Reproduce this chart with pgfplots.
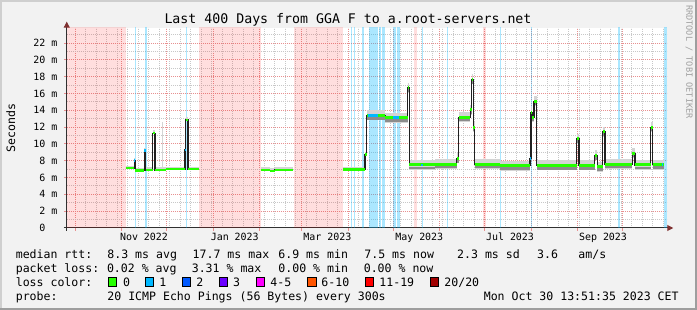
\documentclass[border=0pt]{standalone}
\usepackage{pgfplots}
\pgfplotsset{compat=1.18}
\usepackage{pgfplotstable}
\usepackage{fontspec}
\setmainfont{DejaVu Sans Mono}
\usetikzlibrary{arrows.meta}
\definecolor{bgc}{HTML}{F2F2F2}
\definecolor{shadeA}{HTML}{CFCFCF}
\definecolor{shadeB}{HTML}{9E9E9E}
\definecolor{mgridc}{HTML}{E89090}
\definecolor{gridc}{HTML}{C8C8C8}
\definecolor{arrowc}{HTML}{7F3131}
\definecolor{axisc}{HTML}{303030}
\definecolor{medc}{HTML}{202020}
\definecolor{smokeL}{HTML}{D4D4D4}
\definecolor{smokeD}{HTML}{8C8C8C}
\definecolor{lc0}{HTML}{26FF00}
\definecolor{lc1}{HTML}{00B8FF}
\definecolor{lc2}{HTML}{0059FF}
\definecolor{lc3}{HTML}{6A00FF}
\definecolor{lc4}{HTML}{FF00FF}
\definecolor{lc5}{HTML}{FF5500}
\definecolor{lc6}{HTML}{FF0000}
\definecolor{lc7}{HTML}{A10000}
\definecolor{unkc}{HTML}{FF0000}
\definecolor{wmc}{HTML}{A0A0A0}

% median rtt steps (x = days since 25 Sep 2022, y = ms)
\pgfplotstableread{
d v
39.6 7.1
45.2 8.0
46.0 6.85
51.9 9.2
53.0 6.9
57.6 11.3
59.1 6.9
66.3 7.0
79.1 9.3
79.6 12.9
81.1 7.0
88.2 7.0
}\segA
\pgfplotstableread{
d v
129.6 6.95
135.7 6.8
139.0 6.95
151.3 6.95
}\segB
\pgfplotstableread{
d v
184.3 6.95
199.1 8.7
200.2 13.4
212.5 13.15
227.6 16.7
228.5 7.5
245.8 7.6
260.3 8.3
261.5 13.2
269.2 14.1
270.2 17.7
271.3 12.0
272.4 7.6
288.8 7.4
309.1 8.3
309.8 13.8
310.7 13.2
311.8 15.1
313.6 7.45
340.2 10.65
341.8 7.45
352.4 8.65
354.0 7.3
357.5 11.45
359.1 7.6
377.4 8.9
379.1 7.5
389.7 12.0
390.8 7.55
398.7 7.55
}\segC

\newcommand{\pband}[2]{\addplot[draw=none, fill=unkc, fill opacity=0.13] coordinates {(#1,0) (#1,24) (#2,24) (#2,0)};}
\newcommand{\bband}[2]{\addplot[draw=none, fill=lc1, fill opacity=0.33] coordinates {(#1,0) (#1,24) (#2,24) (#2,0)};}
\newcommand{\lossone}[3]{\addplot[lc1, line width=2.6bp] coordinates {(#1,#3) (#2,#3)};}
\newcommand{\lgf}{\fontsize{11.6}{13}\selectfont}

\begin{document}
\begin{tikzpicture}
\path[use as bounding box] (0,0) rectangle (697bp,310bp);
\fill[bgc] (0,0) rectangle (697bp,310bp);
\fill[shadeA] (0,308bp) rectangle (697bp,310bp);
\fill[shadeA] (0,0) rectangle (2bp,310bp);
\fill[shadeB] (0,0) rectangle (697bp,2bp);
\fill[shadeB] (695bp,0) rectangle (697bp,310bp);

\begin{axis}[
  at={(66.75bp,82bp)}, anchor=south west,
  scale only axis, width=600bp, height=200bp,
  xmin=0.3, xmax=400.3, ymin=0, ymax=23.81,
  axis lines*=left,
  axis line style={axisc, line width=1bp},
  x axis line style={-{Triangle[length=6bp,width=6bp,color=arrowc]}, shorten >=-6.5bp, shorten <=-3bp},
  y axis line style={-{Triangle[length=6bp,width=6bp,color=arrowc]}, shorten >=-6.3bp, shorten <=-3bp},
  axis background/.style={fill=white},
  grid=both,
  major grid style={mgridc, line width=1bp, dash pattern=on 1bp off 1bp},
  minor grid style={gridc, line width=1bp, dash pattern=on 1bp off 1bp},
  xtick={6,37,67,98,129,157,188,218,249,279,310,341,371},
  xticklabels={},
  minor xtick={6,13,...,398},
  extra x ticks={51.8,112.3,174.0,235.3,295.8,357.8},
  extra x tick labels={Nov 2022,Jan 2023,Mar 2023,May 2023,Jul 2023,Sep 2023},
  extra x tick style={grid=none, major tick length=0pt},
  ytick={0,2,...,22},
  minor ytick={1,3,...,23},
  yticklabels={0\phantom{\ m},2 m,4 m,6 m,8 m,10 m,12 m,14 m,16 m,18 m,20 m,22 m},
  tick label style={font=\fontsize{10}{12}\selectfont, inner sep=0pt},
  xticklabel style={anchor=base, yshift=-13bp},
  yticklabel style={anchor=base east, xshift=-6.3bp, yshift=-3.6bp},
  tick align=outside, major tick length=3bp, minor tick length=0pt,
  tick style={mgridc, line width=1bp},
]
% unknown (no data) periods
\pband{0.3}{39.6}
\pband{88.5}{129.6}
\pband{152.0}{184.3}
\pband{231.8}{233.8}
\pband{278.0}{279.8}
% loss backgrounds
\bband{45.8}{46.5}
\bband{52.5}{54.0}
\bband{79.5}{80.1}
\bband{189.5}{190.1}
\bband{191.5}{192.5}
\bband{197.1}{198.5}
\bband{201.8}{207.8}
\bband{208.5}{209.8}
\bband{210.5}{212.5}
\bband{218.0}{219.5}
\bband{220.3}{222.5}
\bband{236.9}{237.8}
\bband{253.8}{254.7}
\bband{288.8}{289.8}
\bband{309.8}{310.5}
\bband{367.8}{368.8}
\bband{398.5}{400.3}
% smoke
\addplot[smokeL, line width=2bp, jump mark left] table[x=d, y expr=\thisrow{v}+0.2] {\segA};
\addplot[smokeL, line width=2bp, jump mark left] table[x=d, y expr=\thisrow{v}+0.2] {\segB};
\addplot[smokeL, line width=2bp, jump mark left, restrict x to domain=180:200] table[x=d, y expr=\thisrow{v}+0.2] {\segC};
\addplot[smokeL, line width=10bp, jump mark left, restrict x to domain=200:400] table[x=d, y=v] {\segC};
\addplot[smokeD, line width=2.6bp, jump mark left, restrict x to domain=200:400] table[x=d, y expr=\thisrow{v}-0.35] {\segC};
\addplot[smokeL, line width=0.8bp] coordinates {(64,7.0) (64,12.6)};
% median line
\addplot[medc, line width=1.1bp, const plot] table[x=d, y=v] {\segA};
\addplot[medc, line width=1.1bp, const plot] table[x=d, y=v] {\segB};
\addplot[medc, line width=1.1bp, const plot] table[x=d, y=v] {\segC};
% loss colour of the median (0 lost)
\addplot[lc0, line width=2.2bp, jump mark left] table[x=d, y=v] {\segA};
\addplot[lc0, line width=2.2bp, jump mark left] table[x=d, y=v] {\segB};
\addplot[lc0, line width=3bp, jump mark left] table[x=d, y=v] {\segC};
% 1 lost
\lossone{45.2}{46.0}{8.0}
\lossone{51.9}{53.0}{9.2}
\lossone{79.1}{79.6}{9.3}
\lossone{201.0}{208.0}{13.4}
\lossone{218.0}{222.0}{13.15}
\lossone{236.6}{237.6}{7.5}
\lossone{309.1}{309.8}{8.3}
\lossone{397.2}{398.0}{7.55}
\end{axis}

% title, labels
\node[anchor=base, inner sep=0pt, font=\fontsize{13.3}{15}\selectfont] at (348bp,286bp) {Last 400 Days from GGA F to a.root-servers.net};
\node[anchor=base, inner sep=0pt, rotate=90, font=\lgf] at (15bp,182bp) {Seconds};
\node[anchor=base west, inner sep=0pt, rotate=-90, font=\fontsize{8.6}{10}\selectfont, text=wmc] at (686.3bp,305bp) {RRDTOOL / TOBI OETIKER};

% legend
\begin{scope}[every node/.style={anchor=base west, inner sep=0pt, font=\lgf}]
\node at (15.6bp,51.5bp) {median rtt:};
\node at (107.2bp,51.5bp) {8.3 ms avg};
\node at (192.5bp,51.5bp) {17.7 ms max};
\node at (278.2bp,51.5bp) {6.9 ms min};
\node at (364.2bp,51.5bp) {7.5 ms now};
\node at (457bp,51.5bp) {2.3 ms sd};
\node at (537bp,51.5bp) {3.6};
\node at (578.2bp,51.5bp) {am/s};

\node at (15.6bp,37.5bp) {packet loss:};
\node at (106.8bp,37.5bp) {0.02 \% avg};
\node at (191.6bp,37.5bp) {3.31 \% max};
\node at (278.2bp,37.5bp) {0.00 \% min};
\node at (363.6bp,37.5bp) {0.00 \% now};

\node at (15.6bp,23.5bp) {loss color:};
\node at (122.8bp,23.5bp) {0};
\node at (159.2bp,23.5bp) {1};
\node at (196.2bp,23.5bp) {2};
\node at (233bp,23.5bp) {3};
\node at (270.2bp,23.5bp) {4-5};
\node at (321.2bp,23.5bp) {6-10};
\node at (379.2bp,23.5bp) {11-19};
\node at (444.2bp,23.5bp) {20/20};

\node at (15.6bp,9.5bp) {probe:};
\node at (107.2bp,9.5bp) {20 ICMP Echo Pings (56 Bytes) every 300s};
\node at (483.6bp,9.5bp) {Mon Oct 30 13:51:35 2023 CET};
\end{scope}
\begin{scope}[line width=0.7bp]
\filldraw[fill=lc0, draw=black] (108bp,23.5bp) rectangle ++(8.4bp,9.2bp);
\filldraw[fill=lc1, draw=black] (145.3bp,23.5bp) rectangle ++(8.4bp,9.2bp);
\filldraw[fill=lc2, draw=black] (182.2bp,23.5bp) rectangle ++(8.4bp,9.2bp);
\filldraw[fill=lc3, draw=black] (219bp,23.5bp) rectangle ++(8.4bp,9.2bp);
\filldraw[fill=lc4, draw=black] (256.4bp,23.5bp) rectangle ++(8.4bp,9.2bp);
\filldraw[fill=lc5, draw=black] (307.6bp,23.5bp) rectangle ++(8.4bp,9.2bp);
\filldraw[fill=lc6, draw=black] (365.3bp,23.5bp) rectangle ++(8.4bp,9.2bp);
\filldraw[fill=lc7, draw=black] (430bp,23.5bp) rectangle ++(8.4bp,9.2bp);
\end{scope}
\end{tikzpicture}
\end{document}
